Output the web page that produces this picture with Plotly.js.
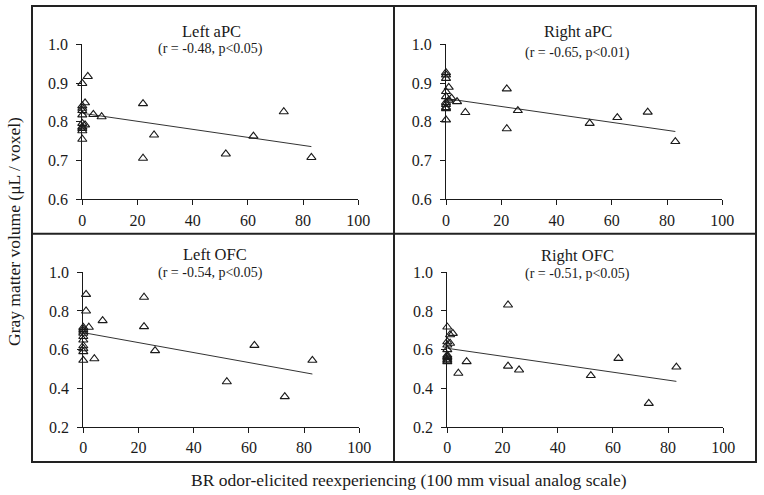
<!DOCTYPE html>
<html>
<head>
<meta charset="utf-8">
<script src="https://cdn.plot.ly/plotly-3.0.1.min.js"></script>
<style>html,body{margin:0;padding:0;background:#fff;}#chart{width:764px;height:495px;}</style>
</head>
<body>
<div id="chart"></div>
<script>
// Shared BR odor-elicited reexperiencing scores (x)
var reexpScore = [0,0,0,0,0,0,0,0,0,0, 1,1,2,4,7,22,22,26,52,62,73,83];

// Gray matter volume per panel (y)
var leftAPC  = [0.899,0.841,0.835,0.829,0.818,0.796,0.787,0.783,0.777,0.755, 0.849,0.792,0.917,0.819,0.813,0.847,0.706,0.766,0.717,0.763,0.826,0.708];
var rightAPC = [0.927,0.921,0.912,0.878,0.865,0.850,0.837,0.834,0.845,0.805, 0.889,0.856,0.861,0.852,0.824,0.885,0.782,0.829,0.796,0.811,0.825,0.749];
var leftOFC  = [0.715,0.705,0.695,0.685,0.668,0.650,0.620,0.605,0.590,0.545, 0.886,0.800,0.716,0.553,0.750,0.871,0.719,0.595,0.434,0.622,0.357,0.545];
var rightOFC = [0.717,0.641,0.624,0.600,0.572,0.565,0.560,0.550,0.538,0.545, 0.633,0.677,0.684,0.478,0.538,0.831,0.515,0.495,0.466,0.555,0.322,0.510];

// Regression line end points
var fitX = [0, 83];
var fitLeftAPC  = [0.822, 0.736];
var fitRightAPC = [0.860, 0.775];
var fitLeftOFC  = [0.688, 0.474];
var fitRightOFC = [0.607, 0.436];

var panelTitles = ['Left aPC', 'Right aPC', 'Left OFC', 'Right OFC'];
var panelStats  = ['(r = -0.48, p<0.05)', '(r = -0.65, p<0.01)', '(r = -0.54, p<0.05)', '(r = -0.51, p<0.05)'];
var xTitle = 'BR odor-elicited reexperiencing (100 mm visual analog scale)';
var yTitle = 'Gray matter volume (μL / voxel)';

var W = 764, H = 495;
var FONT = 'Liberation Serif, Times New Roman, serif';
var INK = '#1a1a1a';

var ySets = [leftAPC, rightAPC, leftOFC, rightOFC];
var fitSets = [fitLeftAPC, fitRightAPC, fitLeftOFC, fitRightOFC];

// pixel domains
var xDom = [[82.3, 358.3], [446, 722.3], [83.3, 359.3], [447.3, 723.3]];
var yDom = [[44.3, 199.3], [44.3, 199.3], [272.3, 427], [272.3, 427]];
var yRanges = [[0.6, 1.0], [0.6, 1.0], [0.2, 1.0], [0.2, 1.0]];
var yDt = [0.1, 0.1, 0.2, 0.2];

var data = [];
var layout = {
  width: W, height: H,
  margin: {l: 0, r: 0, t: 0, b: 0},
  paper_bgcolor: '#fff', plot_bgcolor: 'rgba(0,0,0,0)',
  showlegend: false,
  font: {family: FONT, color: INK},
  annotations: [], shapes: []
};

for (var i = 0; i < 4; i++) {
  var sfx = i === 0 ? '' : String(i + 1);
  data.push({
    x: fitX, y: fitSets[i], xaxis: 'x' + sfx, yaxis: 'y' + sfx,
    mode: 'lines', type: 'scatter', line: {color: '#333', width: 1}, hoverinfo: 'skip'
  });
  data.push({
    x: reexpScore, y: ySets[i], xaxis: 'x' + sfx, yaxis: 'y' + sfx,
    mode: 'markers', type: 'scatter', cliponaxis: false,
    marker: {symbol: 'triangle-up-open', size: 8, color: INK, line: {width: 1.1, color: INK}}
  });
  layout['xaxis' + sfx] = {
    domain: [xDom[i][0] / W, xDom[i][1] / W],
    anchor: 'y' + sfx, range: [0, 100], tick0: 0, dtick: 20,
    showline: true, linecolor: INK, linewidth: 1,
    ticks: 'outside', ticklen: 5, tickcolor: INK, tickwidth: 1,
    ticklabelstandoff: 1,
    showgrid: false, zeroline: false, fixedrange: true,
    tickfont: {family: FONT, size: 16, color: INK}
  };
  layout['yaxis' + sfx] = {
    domain: [1 - yDom[i][1] / H, 1 - yDom[i][0] / H],
    anchor: 'x' + sfx, range: yRanges[i], tick0: 0, dtick: yDt[i], tickformat: '.1f',
    showline: true, linecolor: INK, linewidth: 1,
    ticks: 'outside', ticklen: 5, tickcolor: INK, tickwidth: 1,
    ticklabelstandoff: 5,
    showgrid: false, zeroline: false, fixedrange: true,
    tickfont: {family: FONT, size: 16, color: INK}
  };
}

// panel titles
var titlePos = [[211.7, 32], [577.7, 32], [215, 254], [577.8, 255.5]];
var statPos  = [[210, 49], [577.8, 53], [210.7, 273], [577.5, 274]];
for (var j = 0; j < 4; j++) {
  layout.annotations.push({
    text: panelTitles[j], xref: 'paper', yref: 'paper',
    x: titlePos[j][0] / W, y: 1 - titlePos[j][1] / H, xanchor: 'center', yanchor: 'middle',
    showarrow: false, font: {family: FONT, size: 16.5, color: INK}
  });
  layout.annotations.push({
    text: panelStats[j], xref: 'paper', yref: 'paper',
    x: statPos[j][0] / W, y: 1 - statPos[j][1] / H, xanchor: 'center', yanchor: 'middle',
    showarrow: false, font: {family: FONT, size: 14, color: INK}
  });
}
layout.annotations.push({
  text: xTitle, xref: 'paper', yref: 'paper', x: 409 / W, y: 1 - 480 / H,
  xanchor: 'center', yanchor: 'middle', showarrow: false,
  font: {family: FONT, size: 17.5, color: INK}
});
layout.annotations.push({
  text: yTitle, xref: 'paper', yref: 'paper', x: 14 / W, y: 1 - 232 / H,
  xanchor: 'center', yanchor: 'middle', showarrow: false, textangle: -90,
  font: {family: FONT, size: 17.5, color: INK}
});

// frame
var bx0 = 32 / W, bx1 = 756 / W, by0 = 1 - 462 / H, by1 = 1 - 6 / H;
layout.shapes.push({type: 'rect', xref: 'paper', yref: 'paper', x0: bx0, x1: bx1, y0: by0, y1: by1, line: {color: '#222', width: 2}});
layout.shapes.push({type: 'line', xref: 'paper', yref: 'paper', x0: 394 / W, x1: 394 / W, y0: by0, y1: by1, line: {color: '#222', width: 2}});
layout.shapes.push({type: 'line', xref: 'paper', yref: 'paper', x0: bx0, x1: bx1, y0: 1 - 233.7 / H, y1: 1 - 233.7 / H, line: {color: '#222', width: 2}});

Plotly.newPlot('chart', data, layout, {displayModeBar: false, staticPlot: true});
</script>
</body>
</html>
